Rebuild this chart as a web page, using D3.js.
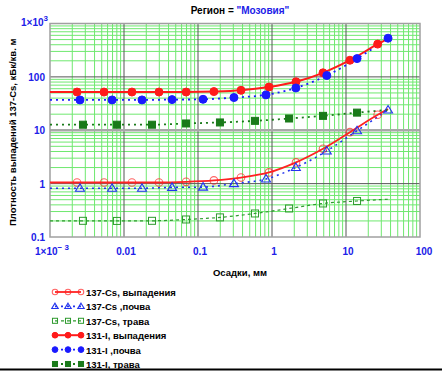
<!DOCTYPE html>
<html>
<head>
<meta charset="utf-8">
<script src="https://cdn.jsdelivr.net/npm/d3@7"></script>
<style>
  body { margin: 0; background: #fff; }
  svg text { font-family: "Liberation Sans", Arial, sans-serif; font-weight: 700; }
</style>
</head>
<body>
<div id="chart"></div>
<script>
// x values (осадки, мм) for the three groups of curves
const redX   = [0.001, 0.00232, 0.00537, 0.0128, 0.0297, 0.0691, 0.164, 0.381, 0.91, 2.11, 4.89, 11.3, 26.8, 37];
const blueX  = [0.001, 0.00254, 0.0069, 0.0175, 0.0446, 0.117, 0.306, 0.83, 2.1, 5.5, 14.1, 37];
const greenX = [0.001, 0.00279, 0.00803, 0.0239, 0.0689, 0.198, 0.589, 1.70, 4.89, 14.1, 37];

// densities, кБк/кв. м
const csFall  = [1.05, 1.05, 1.05, 1.05, 1.05, 1.08, 1.15, 1.3, 1.62, 2.5, 4.5, 9.2, 19.5, 25];
const csSoil  = [0.82, 0.82, 0.82, 0.82, 0.85, 0.86, 1.0, 1.22, 2.0, 4.1, 9.8, 24];
const csGrass = [0.2, 0.201, 0.2, 0.201, 0.213, 0.233, 0.276, 0.342, 0.425, 0.473, 0.51];
const iFall   = [52, 52, 52, 52, 52, 52, 53, 56, 64.5, 81, 119, 205, 411, 520];
const iSoil   = [37, 37, 37, 37, 37.5, 38, 41, 46, 62, 106, 220, 530];
const iGrass  = [12.7, 12.7, 12.7, 12.7, 13.4, 14, 15, 16.6, 18.6, 21.4, 24];

const xTicks = [0.001, 0.01, 0.1, 1, 10, 100];
const yTicks = [0.1, 1, 10, 100, 1000];
const legendNames = ["137-Cs, выпадения", "137-Cs ,почва", "137-Cs, трава",
                     "131-I, выпадения", "131-I ,почва", "131-I, трава"];

const W = 442, H = 371;
const margin = {top: 23.5, right: 22, bottom: 134, left: 50};
const width = W - margin.left - margin.right,
      height = H - margin.top - margin.bottom;

const svg = d3.select("#chart").append("svg")
    .attr("width", W).attr("height", H);

const g = svg.append("g")
    .attr("transform", `translate(${margin.left}, ${margin.top})`);

const x = d3.scaleLog().domain([0.001, 100]).range([0, width]);
const y = d3.scaleLog().domain([0.1, 1000]).range([height, 0]);

// minor grid (2..9 in every decade)
const minorX = [], minorY = [];
for (let e = -3; e < 2; e++) for (let k = 2; k < 10; k++) minorX.push(k * Math.pow(10, e));
for (let e = -1; e < 3; e++) for (let k = 2; k < 10; k++) minorY.push(k * Math.pow(10, e));

g.selectAll(".mx").data(minorX).join("line")
    .attr("x1", d => x(d)).attr("x2", d => x(d))
    .attr("y1", 0).attr("y2", height)
    .attr("stroke", "#6fe86f").attr("stroke-width", 1);
g.selectAll(".my").data(minorY).join("line")
    .attr("y1", d => y(d)).attr("y2", d => y(d))
    .attr("x1", 0).attr("x2", width)
    .attr("stroke", "#6fe86f").attr("stroke-width", 1);

// decade lines
g.selectAll(".MX").data(xTicks.slice(1, -1)).join("line")
    .attr("x1", d => x(d)).attr("x2", d => x(d))
    .attr("y1", 0).attr("y2", height)
    .attr("stroke", "#555").attr("stroke-width", 1);
g.selectAll(".MY").data(yTicks.slice(1, -1)).join("line")
    .attr("y1", d => y(d)).attr("y2", d => y(d))
    .attr("x1", 0).attr("x2", width)
    .attr("stroke", d => d === 10 ? "#a8a8a8" : "#555")
    .attr("stroke-width", d => d === 10 ? 2.5 : 1);

g.append("rect")
    .attr("width", width).attr("height", height)
    .attr("fill", "none").attr("stroke", "#a0a0a0").attr("stroke-width", 1.5);

// series
const series = [
  {xs: redX,   ys: csFall,  color: "#ff2222", dash: null,  w: 1.8, shape: "circle",   fill: false, m: [1, 12]},
  {xs: blueX,  ys: csSoil,  color: "#2233ee", dash: "2,4", w: 1.6, shape: "triangle", fill: false, m: [1, 11]},
  {xs: greenX, ys: csGrass, color: "#2e9a2e", dash: "3,3", w: 1.2, shape: "square",   fill: false, m: [1, 9]},
  {xs: redX,   ys: iFall,   color: "#ff1a1a", dash: null,  w: 2,   shape: "circle",   fill: true,  m: [1, 12]},
  {xs: blueX,  ys: iSoil,   color: "#1a1aff", dash: "2,4", w: 1.8, shape: "circle",   fill: true,  m: [1, 11]},
  {xs: greenX, ys: iGrass,  color: "#1a7a1a", dash: "2,4", w: 1.8, shape: "square",   fill: true,  m: [1, 9]}
];

const line = d3.line().curve(d3.curveMonotoneX)
    .x(d => x(d[0])).y(d => y(d[1]));

function drawMarker(sel, s, px, py, k = 1) {
  if (s.shape === "circle") {
    sel.append("circle").attr("cx", px).attr("cy", py)
      .attr("r", (s.fill ? 4 : 3.8) * k)
      .attr("fill", s.fill ? s.color : "none")
      .attr("stroke", s.color).attr("stroke-width", s.fill ? 1 : 1.1)
      .attr("stroke-opacity", s.fill ? 1 : 0.7);
  } else if (s.shape === "square") {
    const a = 7 * k;
    sel.append("rect").attr("x", px - a / 2).attr("y", py - a / 2)
      .attr("width", a).attr("height", a)
      .attr("fill", s.fill ? s.color : "none")
      .attr("stroke", s.color).attr("stroke-width", 1);
  } else {
    const r = 4.5 * k;
    sel.append("path")
      .attr("d", `M${px},${py - r}L${px + r},${py + r * 0.67}L${px - r},${py + r * 0.67}Z`)
      .attr("fill", "none").attr("stroke", s.color).attr("stroke-width", 1.1);
  }
}

series.forEach(s => {
  const pts = s.xs.map((v, i) => [v, s.ys[i]]);
  g.append("path").datum(pts)
    .attr("d", line)
    .attr("fill", "none")
    .attr("stroke", s.color)
    .attr("stroke-width", s.w)
    .attr("stroke-dasharray", s.dash);
});
series.forEach(s => {
  const mg = g.append("g");
  s.xs.forEach((v, i) => {
    if (i >= s.m[0] && i <= s.m[1]) drawMarker(mg, s, x(v), y(s.ys[i]));
  });
});

// tick labels
const blue = "#2020e8";
const xl = g.append("g").attr("transform", `translate(0, ${height + 18})`);
xTicks.forEach(t => {
  const tx = xl.append("text")
    .attr("x", x(t) + (t === 100 ? 4 : 2)).attr("y", 0)
    .attr("text-anchor", "middle")
    .attr("fill", blue).style("font-size", "10px");
  if (t === 0.001) {
    tx.text("1\u00d710");
    tx.append("tspan").attr("dy", -5).style("font-size", "8px").text("\u2212 3");
  } else {
    tx.text(d3.format("~g")(t));
  }
});

yTicks.forEach(t => {
  const ty = g.append("text")
    .attr("x", -5).attr("y", y(t) + 4)
    .attr("text-anchor", "end")
    .attr("fill", blue).style("font-size", "10px");
  if (t === 1000) {
    ty.attr("x", -2).attr("y", y(t) + 2).text("1\u00d710");
    ty.append("tspan").attr("dy", -5).style("font-size", "8px").text("3");
  } else {
    ty.text(d3.format("~g")(t));
  }
});

// title
const title = svg.append("text")
    .attr("x", 240).attr("y", 14)
    .attr("text-anchor", "middle")
    .style("font-size", "10px").attr("fill", "#000");
title.append("tspan").text("Регион = ");
title.append("tspan").attr("fill", blue).text("\"Мозовия\"");

// axis titles
svg.append("text")
    .attr("x", 240).attr("y", 276)
    .attr("text-anchor", "middle")
    .style("font-size", "9.5px")
    .text("Осадки, мм");

svg.append("text")
    .attr("transform", `translate(16, ${margin.top + height / 2 + 2}) rotate(-90)`)
    .attr("text-anchor", "middle")
    .style("font-size", "9.5px")
    .text("Плотность выпадений 137-Cs, кБк/кв. м");

// legend
const lg = svg.append("g").attr("transform", "translate(55, 292)");
series.forEach((s, i) => {
  const row = lg.append("g").attr("transform", `translate(0, ${i * 14.4})`);
  row.append("line").attr("x1", 0).attr("x2", 26).attr("y1", 0).attr("y2", 0)
    .attr("stroke", s.color).attr("stroke-width", s.w)
    .attr("stroke-dasharray", s.dash);
  [0, 13, 26].forEach(px => drawMarker(row, s, px, 0, 0.72));
  row.append("text").attr("x", 31).attr("y", 4)
    .style("font-size", "9.5px").attr("fill", "#000")
    .text(legendNames[i]);
});

// frame line at the bottom of the picture
svg.append("line").attr("x1", 0).attr("x2", W).attr("y1", H - 1.5).attr("y2", H - 1.5)
    .attr("stroke", "#000").attr("stroke-width", 2);
</script>
</body>
</html>
